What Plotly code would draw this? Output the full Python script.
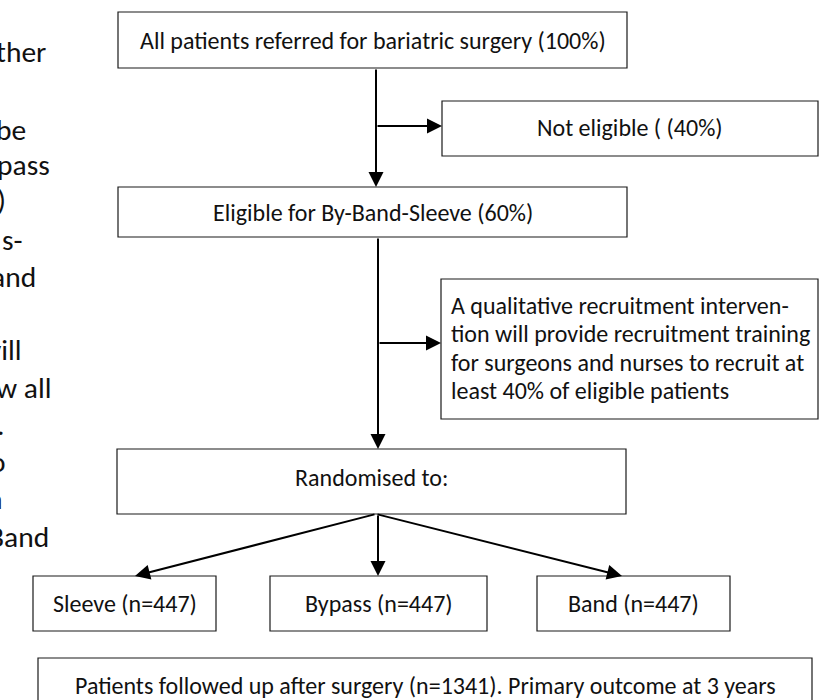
import plotly.graph_objects as go

# ---------------- data (texts) ----------------
box_labels = [
    "All patients referred for bariatric surgery (100%)",
    "Not eligible ( (40%)",
    "Eligible for By-Band-Sleeve (60%)",
    "Randomised to:",
    "Sleeve (n=447)",
    "Bypass (n=447)",
    "Band (n=447)",
    "Patients followed up after surgery (n=1341). Primary outcome at 3 years",
]
qual_lines = [
    "A qualitative recruitment interven-",
    "tion will provide recruitment training",
    "for surgeons and nurses to recruit at",
    "least 40% of eligible patients",
]
side_fragments = ["ther", "be", "pass", ")", "s-", "and", "vill", "w all", ".", "o", "n", "Band"]

# ---------------- layout geometry (pixels, y downward) ----------------
box_geom = [
    (118, 12, 627, 68),
    (442, 101, 818, 156),
    (118, 187, 627, 237),
    (117, 449, 626, 514),
    (33, 576, 216, 631),
    (270, 576, 487, 631),
    (537, 576, 730, 631),
    (38, 658, 812, 712),
]
box_text_y = [40, 127, 212, 477, 603, 603, 603, 685]
qual_geom = (441, 279, 818, 419)
qual_text_x = 449
qual_text_y = [305, 333, 362, 390]
side_right = [48, 28, 52, 8, 25, 38, 24, 53, 6, 8, 5, 51]
side_y = [52, 130, 165, 200, 240, 277, 350, 388, 425, 462, 499, 537]
arrows = [  # tail x, tail y, head x, head y
    (376, 68, 376, 187),
    (376, 126, 442, 126),
    (378, 237, 378, 449),
    (378, 343, 441, 343),
    (376, 514, 135, 576),
    (378, 514, 378, 576),
    (376, 514, 622, 576),
]

FONT = "Carlito, 'Open Sans', sans-serif"
BOX_FS = 24
BODY_FS = 29.5

fig = go.Figure()
shapes = []
annotations = []
for (x0, y0, x1, y1), lab, ty in zip(box_geom, box_labels, box_text_y):
    shapes.append(dict(type="rect", xref="x", yref="y", x0=x0, y0=y0, x1=x1, y1=y1,
                       line=dict(color="#1a1a1a", width=1.2), fillcolor="white", layer="below"))
    annotations.append(dict(x=(x0 + x1) / 2, y=ty, xref="x", yref="y", text=lab,
                            showarrow=False, font=dict(family=FONT, size=BOX_FS, color="#111"),
                            xanchor="center", yanchor="middle"))

qx0, qy0, qx1, qy1 = qual_geom
shapes.append(dict(type="rect", xref="x", yref="y", x0=qx0, y0=qy0, x1=qx1, y1=qy1,
                   line=dict(color="#1a1a1a", width=1.2), fillcolor="white", layer="below"))
for ln, ty in zip(qual_lines, qual_text_y):
    annotations.append(dict(x=qual_text_x, y=ty, xref="x", yref="y", text=ln,
                            showarrow=False, font=dict(family=FONT, size=BOX_FS, color="#111"),
                            xanchor="left", yanchor="middle"))

for frag, xr, ty in zip(side_fragments, side_right, side_y):
    annotations.append(dict(x=xr, y=ty, xref="x", yref="y", text=frag,
                            showarrow=False, font=dict(family=FONT, size=BODY_FS, color="#111"),
                            xanchor="right", yanchor="middle"))

for tx, ty, hx, hy in arrows:
    annotations.append(dict(x=hx, y=hy, ax=tx, ay=ty, xref="x", yref="y", axref="x", ayref="y",
                            text="", showarrow=True, arrowhead=2, arrowsize=1.5, arrowwidth=2,
                            arrowcolor="black", standoff=0, startstandoff=0))

fig.update_layout(
    width=820, height=700,
    margin=dict(l=0, r=0, t=0, b=0),
    paper_bgcolor="white", plot_bgcolor="white",
    xaxis=dict(range=[0, 820], visible=False, fixedrange=True),
    yaxis=dict(range=[700, 0], visible=False, fixedrange=True),
    shapes=shapes, annotations=annotations, showlegend=False,
)
fig.write_html("out.html", config={"displayModeBar": False},
               post_script="document.body.style.margin='0px';")
